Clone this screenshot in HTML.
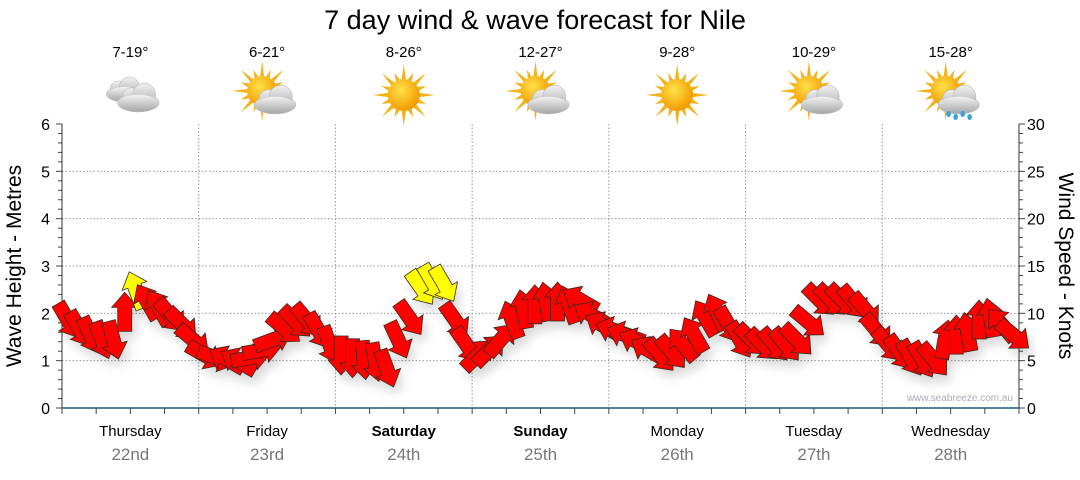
<!DOCTYPE html>
<html><head><meta charset="utf-8"><style>
body{margin:0;background:#fff;width:1080px;height:475px;overflow:hidden;font-family:"Liberation Sans",sans-serif}
</style></head><body>
<svg id="chart" width="1080" height="475" xmlns="http://www.w3.org/2000/svg" font-family="Liberation Sans, DejaVu Sans, sans-serif">
<defs>
<filter id="sh" x="-50%" y="-50%" width="200%" height="200%"><feDropShadow dx="4" dy="7" stdDeviation="5" flood-color="#000" flood-opacity="0.15"/></filter>
<radialGradient id="sunG" cx="40%" cy="35%" r="65%"><stop offset="0" stop-color="#ffe14a"/><stop offset="1" stop-color="#f29a00"/></radialGradient>
<linearGradient id="cloudG" x1="0" y1="0" x2="0" y2="1"><stop offset="0" stop-color="#f2f2f2"/><stop offset="1" stop-color="#a9a9a9"/></linearGradient>
</defs>
<text x="535" y="29" text-anchor="middle" font-size="27" fill="#000">7 day wind &amp; wave forecast for Nile</text>
<g id="grid"></g><g id="axes"></g><g id="icons"></g><g id="arrows" filter="url(#sh)"></g>
<text x="1013" y="401" text-anchor="end" font-size="10" fill="#aab">www.seabreeze.com.au</text>
<text transform="translate(21,266) rotate(-90)" text-anchor="middle" font-size="21" fill="#000">Wave Height - Metres</text>
<text transform="translate(1059,266) rotate(90)" text-anchor="middle" font-size="21" fill="#000">Wind Speed - Knots</text>
</svg>
<script>
const days=["Thursday","Friday","Saturday","Sunday","Monday","Tuesday","Wednesday"];
const dates=["22nd","23rd","24th","25th","26th","27th","28th"];
const boldDays=[false,false,true,true,false,false,false];
const temps=["7-19°","6-21°","8-26°","12-27°","9-28°","10-29°","15-28°"];
const weather=["cloudy","partly","sunny","partly","sunny","partly","showers"];
const waveTicks=[0,1,2,3,4,5,6];
const windTicks=[0,5,10,15,20,25,30];
const windKnots=[
9.3,8.4,7.7,7.2,7.2,10.1,12.4,11.2,10.6,9.8,8.9,7.2,
5.6,5.3,5.1,4.9,5.3,6.1,7.2,8.4,9.1,9.3,8.2,6.7,
5.6,5.3,5.1,4.9,4.2,7.2,9.5,12.7,13.3,13.1,9.3,6.7,
5.6,6.1,7.2,9.3,10.4,10.9,11.2,11.2,10.9,11.4,9.8,8.7,
8.2,7.7,7.0,6.1,5.6,5.9,6.7,7.7,9.5,10.1,8.8,7.2,
7.2,6.7,6.7,6.7,7.2,9.1,11.4,11.4,11.4,11.2,10.4,8.2,
6.7,5.9,5.3,5.1,5.1,7.2,7.7,8.0,9.3,9.5,8.8,7.7];
const windDir=[
150,150,155,160,165,0,340,330,330,140,135,130,
120,110,300,300,80,80,70,130,135,140,150,160,
180,180,175,170,160,155,145,145,150,150,145,145,
45,45,40,340,350,0,350,0,340,300,300,300,
290,290,295,300,140,140,320,330,330,335,150,150,
135,135,140,140,135,130,135,135,135,140,140,140,
140,145,150,150,140,10,0,350,0,350,320,130];
const X0=62,X1=1019,Y0=408,Y1=124,NS="http://www.w3.org/2000/svg";
const dayW=(X1-X0)/7;
const yWave=m=>Y0-(m/6)*(Y0-Y1);
const yWind=k=>Y0-(k/30)*(Y0-Y1);
const xSlot=i=>X0+(i+0.5)*(X1-X0)/windKnots.length;
function mk(t,a,p){const e=document.createElementNS(NS,t);for(const k in a)e.setAttribute(k,a[k]);(p||document.getElementById('chart')).appendChild(e);return e;}
const grid=document.getElementById('grid'),axes=document.getElementById('axes');
waveTicks.forEach(m=>{if(m>0&&m<6){const l=mk('line',{x1:X0,x2:X1,y1:yWave(m),y2:yWave(m),stroke:'#999','stroke-dasharray':'1.5,2','stroke-width':1},grid);

}
const t=mk('text',{x:50,y:yWave(m)+6,'text-anchor':'end','font-size':16,fill:'#000'},axes);t.textContent=m;

});
windTicks.forEach(k=>{const t=mk('text',{x:1027,y:yWind(k)+6,'font-size':16,fill:'#000'},axes);t.textContent=k;

});
for(let i=0;i<=30;i++){const y=yWave(i/5);mk('line',{x1:X0-(i%5?4:6),x2:X0,y1:y,y2:y,stroke:'#444'},axes);}
for(let i=0;i<=30;i++){const y=yWind(i);mk('line',{x1:X1,x2:X1+(i%5?4:6),y1:y,y2:y,stroke:'#444'},axes);}
for(let d=1;d<7;d++){const x=X0+d*dayW;const l=mk('line',{x1:x,x2:x,y1:Y1,y2:Y0,stroke:'#999','stroke-dasharray':'1.5,2'},grid);

}
for(let i=0;i<=28;i++){const x=X0+i*dayW/4;mk('line',{x1:x,x2:x,y1:Y0,y2:Y0+6,stroke:'#444'},axes);}
mk('line',{x1:X0,x2:X0,y1:Y1,y2:Y0,stroke:'#333'},axes);
mk('line',{x1:X1,x2:X1,y1:Y1,y2:Y0,stroke:'#333'},axes);
mk('line',{x1:X0,x2:X1,y1:Y0,y2:Y0,stroke:'#1d5a8a','stroke-width':1.5},axes);
const icons=document.getElementById('icons');
function sun(g,cx,cy,r){let p='';for(let i=0;i<16;i++){const a=i*Math.PI/8,l=i%2?r+8:r+15;
const a1=a-0.13,a2=a+0.13;p+=`M${cx+r*Math.cos(a1)},${cy+r*Math.sin(a1)}L${cx+l*Math.cos(a)},${cy+l*Math.sin(a)}L${cx+r*Math.cos(a2)},${cy+r*Math.sin(a2)}Z`;}
mk('path',{d:p,fill:'#f3b21a'},g);mk('circle',{cx,cy,r,fill:'url(#sunG)'},g);}
function cloud(g,cx,cy,s){const gg=mk('g',{fill:'url(#cloudG)',stroke:'#bbb','stroke-width':0.6},g);
mk('ellipse',{cx:cx,cy:cy+5*s,rx:18*s,ry:8*s},gg);mk('circle',{cx:cx-6*s,cy:cy,r:8*s},gg);mk('circle',{cx:cx+5*s,cy:cy-2*s,r:10*s},gg);
mk('ellipse',{cx:cx,cy:cy+5*s,rx:17*s,ry:7*s,stroke:'none'},gg);}
days.forEach((d,i)=>{const cx=X0+(i+0.5)*dayW;
const t=mk('text',{x:cx,y:57,'text-anchor':'middle','font-size':15,fill:'#000'});t.textContent=temps[i];


const g=mk('g',{},icons);


const w=weather[i],cy=95;
if(w==='cloudy'){cloud(g,cx-6,cy-6,1.0);cloud(g,cx+8,cy+2,1.15);}
else if(w==='sunny'){sun(g,cx,cy,16);}
else{sun(g,cx-5,cy-4,15);cloud(g,cx+8,cy+4,1.15);
if(w==='showers'){[-2,5,12,19].forEach((dx,j)=>mk('ellipse',{cx:cx+dx,cy:cy+19+(j%2)*3,rx:2.3,ry:3,fill:'#3aa0e0'},g));}}
const a=mk('text',{x:cx,y:436,'text-anchor':'middle','font-size':15,fill:'#000','font-weight':boldDays[i]?'bold':'normal'});a.textContent=d;


const b=mk('text',{x:cx,y:460,'text-anchor':'middle','font-size':17,fill:'#777'});b.textContent=dates[i];

});
const ar=document.getElementById('arrows');
const shape="M0,-20 L13,-5 L7,-5 L7,19 L-7,19 L-7,-5 L-13,-5 Z";
windKnots.forEach((k,i)=>{const p=mk('path',{d:shape,transform:`translate(${xSlot(i).toFixed(1)},${yWind(k).toFixed(1)}) rotate(${windDir[i]})`,fill:k>=12?'#ffff00':'#ff0000',stroke:'#3a2a20','stroke-width':0.8,'stroke-linejoin':'miter'},ar);

});
</script>
</body></html>
